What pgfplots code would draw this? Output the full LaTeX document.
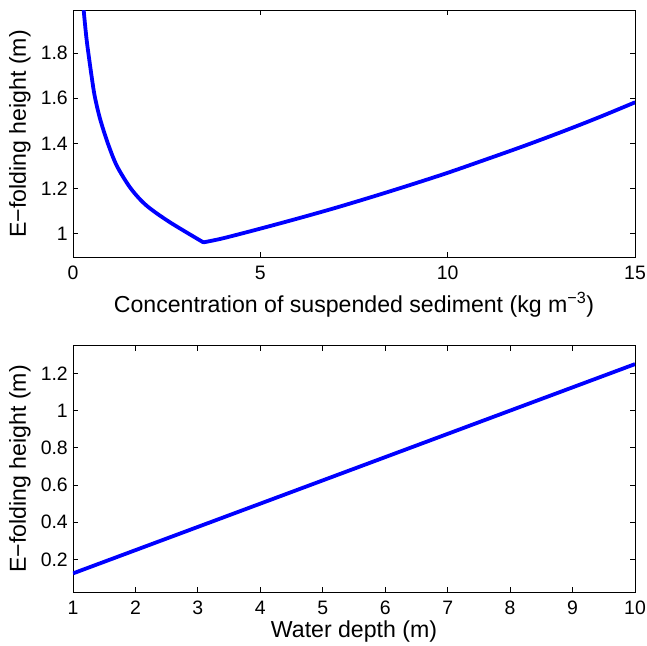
\documentclass[border=0pt]{standalone}
\usepackage{fontspec}
\setmainfont{Liberation Sans}
\usepackage{pgfplots}
\pgfplotsset{compat=1.18}
\definecolor{mblue}{RGB}{0,0,255}
\begin{document}
\begin{tikzpicture}
\pgfplotsset{
  every axis/.append style={
    scale only axis,
    width=562bp, height=246.5bp,
    tick align=inside,
    major tick length=5bp,
    axis line style={line width=0.8bp},
    every tick/.style={black, line width=0.8bp},
    /pgf/number format/assume math mode=true,
    tick label style={font=\fontsize{19.5}{23}\selectfont},
    xticklabel style={anchor=base, yshift=-22bp},
    yticklabel style={inner sep=0pt, xshift=-5bp},
    label style={font=\fontsize{23.2}{27}\selectfont},
    ylabel style={at={(axis description cs:0,0.5)}, anchor=base, yshift=47bp},
    clip=true,
  }
}
\begin{axis}[
  name=top, at={(0,0)}, anchor=south west,
  xmin=0, xmax=15, ymin=0.895, ymax=1.99,
  xtick={0,5,10,15},
  ytick={1,1.2,1.4,1.6,1.8},
  xlabel={Concentration of suspended sediment (kg m\textsuperscript{−3})},
  xlabel style={at={(axis description cs:0.5,0)}, anchor=base, yshift=-55bp},
  ylabel={E−folding height (m)},
]
\addplot[mblue, line width=3.8bp, smooth, line join=round, line cap=round] coordinates {
  (0.26,2.06) (0.286,1.99) (0.357,1.87) (0.419,1.79) (0.499,1.695)
  (0.579,1.61) (0.72,1.51) (0.93,1.40) (1.17,1.30) (1.54,1.20)
  (1.958,1.124) (2.58,1.05) (3.48,0.96)
};
\addplot[mblue, line width=3.8bp, smooth, line join=round, line cap=round] coordinates {
  (3.48,0.96) (4,0.978) (5,1.021) (6,1.066) (7,1.113) (8,1.163) (9,1.215)
  (10,1.269) (11,1.327) (12,1.386) (13,1.448) (14,1.513) (15,1.582)
};
\end{axis}
\begin{axis}[
  name=bot, at={(0,-335bp)}, anchor=south west,
  xmin=1, xmax=10, ymin=0.025, ymax=1.35,
  xtick={1,2,3,4,5,6,7,8,9,10},
  ytick={0.2,0.4,0.6,0.8,1,1.2},
  yticklabels={0.2,0.4,0.6,0.8,1,1.2},
  xlabel={Water depth (m)},
  xlabel style={at={(axis description cs:0.5,0)}, anchor=base, yshift=-45bp},
  ylabel={E−folding height (m)},
]
\addplot[mblue, line width=3.8bp] coordinates {(1,0.125) (10,1.25)};
\end{axis}
\pgfresetboundingbox
\path[use as bounding box] (-73bp,257bp) rectangle (574bp,-389bp);
\end{tikzpicture}
\end{document}
